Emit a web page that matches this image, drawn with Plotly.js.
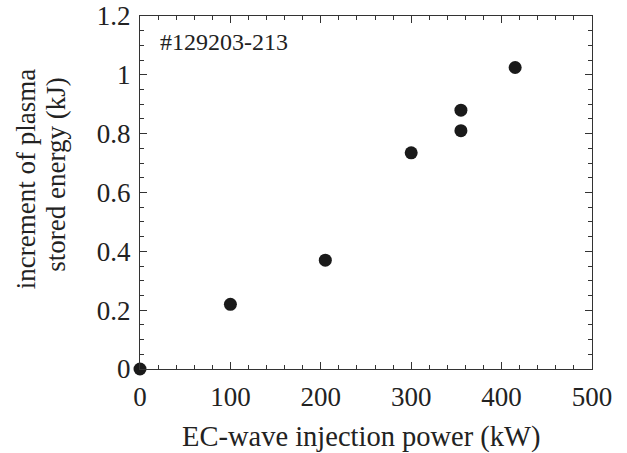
<!DOCTYPE html>
<html>
<head>
<meta charset="utf-8">
<script src="https://cdn.plot.ly/plotly-3.0.1.min.js"></script>
<style>html,body{margin:0;padding:0;background:#fff;}</style>
</head>
<body>
<div id="chart" style="width:627px;height:453px;"></div>
<script>
const powerKW = [0, 100, 205, 300, 355, 355, 415];
const energyKJ = [0, 0.22, 0.37, 0.735, 0.88, 0.81, 1.025];
const shotLabel = "#129203-213";
const xTitle = "EC-wave injection power (kW)";
const yTitleLines = ["increment of plasma", "stored energy (kJ)"];

const font = "Liberation Serif";
const ink = '#222';
const axisCommon = {
  showgrid: false, zeroline: false, showline: true, linecolor: '#333', linewidth: 1,
  mirror: 'allticks', ticks: 'inside', ticklen: 7, tickwidth: 1, tickcolor: '#333',
  tickfont: {family: font, size: 27, color: ink}
};
const data = [{
  x: powerKW, y: energyKJ, type: 'scatter', mode: 'markers',
  marker: {color: '#1a1a1a', size: 13},
  cliponaxis: false, hoverinfo: 'none'
}];
const layout = {
  width: 627, height: 453,
  margin: {l: 140, r: 34.5, t: 16, b: 83.7},
  paper_bgcolor: '#fff', plot_bgcolor: '#fff',
  showlegend: false,
  xaxis: Object.assign({}, axisCommon, {
    range: [0, 500], dtick: 100, tick0: 0, ticklabelstandoff: 4,
    minor: {dtick: 20, ticks: 'inside', ticklen: 4, tickcolor: '#333', showgrid: false}
  }),
  yaxis: Object.assign({}, axisCommon, {
    range: [0, 1.2], dtick: 0.2, tick0: 0, ticklabelstandoff: 3,
    minor: {dtick: 0.05, ticks: 'inside', ticklen: 4, tickcolor: '#333', showgrid: false}
  }),
  annotations: [
    {text: shotLabel, xref: 'paper', yref: 'paper', x: 0.04, y: 0.9264,
     xanchor: 'left', yanchor: 'middle', showarrow: false,
     font: {family: font, size: 24, color: ink}},
    {text: xTitle, xref: 'paper', yref: 'paper', x: 0.489, y: -0.1916,
     xanchor: 'center', yanchor: 'middle', showarrow: false,
     font: {family: font, size: 28.5, color: ink}},
    {text: yTitleLines[0], xref: 'paper', yref: 'paper', x: -0.252, y: 0.538,
     xanchor: 'center', yanchor: 'middle', showarrow: false, textangle: -90,
     font: {family: font, size: 27, color: ink}},
    {text: yTitleLines[1], xref: 'paper', yref: 'paper', x: -0.186, y: 0.55,
     xanchor: 'center', yanchor: 'middle', showarrow: false, textangle: -90,
     font: {family: font, size: 27, color: ink}}
  ]
};
Plotly.newPlot('chart', data, layout, {displayModeBar: false, staticPlot: true});
</script>
</body>
</html>
